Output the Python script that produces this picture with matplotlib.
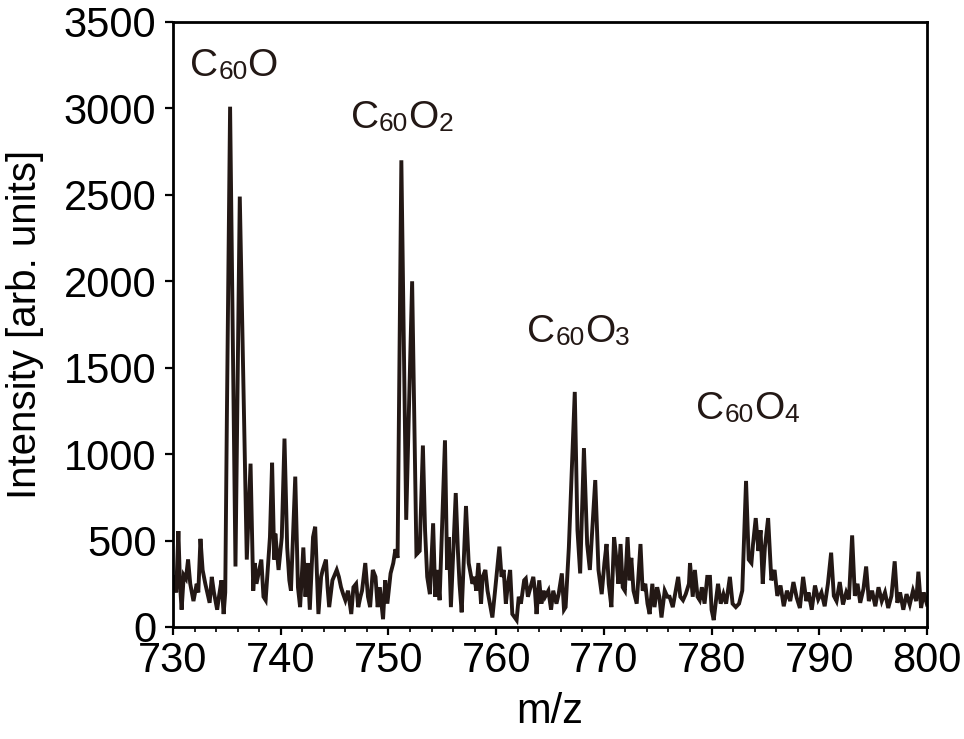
import matplotlib
matplotlib.use("Agg")
import matplotlib.pyplot as plt
from matplotlib.ticker import MultipleLocator

plt.rcParams['font.family'] = ['Liberation Sans', 'DejaVu Sans']

# m/z positions and intensities
mz = [730.0, 730.15, 730.3, 730.5, 730.65, 730.8, 731.0, 731.2, 731.4, 731.6,
      731.9, 732.2, 732.35, 732.55, 732.75, 733.0, 733.4, 733.6, 733.8, 734.1,
      734.3, 734.5, 734.7, 734.85, 735.0, 735.3, 735.8, 736.2, 736.85, 737.2,
      737.45, 737.6, 737.75, 738.2, 738.4, 738.6, 739.0, 739.2, 739.4, 739.5,
      739.8, 740.1, 740.35, 740.6, 740.8, 740.95, 741.35, 741.6, 741.8, 742.1,
      742.3, 742.5, 742.7, 743.0, 743.2, 743.5, 743.75, 743.9, 744.2, 744.35,
      744.5, 744.8, 745.2, 745.4, 745.6, 745.8, 746.0, 746.25, 746.55, 746.75,
      747.0, 747.2, 747.4, 747.55, 747.85, 748.1, 748.3, 748.55, 748.8, 749.0,
      749.2, 749.5, 749.7, 749.9, 750.2, 750.45, 750.65, 750.85, 751.2, 751.65,
      752.2, 752.6, 752.9, 753.2, 753.4, 753.6, 753.85, 754.15, 754.35, 754.55,
      754.75, 755.25, 755.45, 755.6, 755.8, 756.25, 756.45, 756.6, 756.8, 757.2,
      757.45, 757.8, 758.0, 758.15, 758.35, 758.6, 758.75, 759.0, 759.2, 759.65,
      759.9, 760.3, 760.5, 760.7, 760.9, 761.1, 761.3, 761.5, 761.9, 762.1,
      762.3, 762.6, 762.75, 762.95, 763.45, 763.6, 763.75, 764.0, 764.2, 764.4,
      764.55, 764.85, 765.1, 765.3, 765.6, 765.8, 766.1, 766.3, 766.45, 766.75,
      767.3, 767.55, 767.8, 768.15, 768.45, 768.7, 769.2, 769.5, 769.8, 770.05,
      770.25, 770.45, 770.7, 770.95, 771.2, 771.35, 771.55, 771.75, 771.95, 772.2,
      772.4, 772.55, 772.75, 773.05, 773.4, 773.6, 773.85, 774.05, 774.25, 774.5,
      774.7, 774.95, 775.15, 775.35, 775.65, 775.9, 776.1, 776.4, 776.9, 777.1,
      777.35, 777.6, 777.9, 778.0, 778.25, 778.45, 778.7, 778.9, 779.1, 779.35,
      779.6, 779.85, 780.0, 780.2, 780.45, 780.6, 780.85, 781.1, 781.35, 781.7,
      781.95, 782.25, 782.55, 782.85, 783.2, 783.45, 783.7, 783.85, 784.1, 784.35,
      784.55, 784.75, 784.95, 785.25, 785.55, 785.85, 786.1, 786.4, 786.7, 787.0,
      787.3, 787.6, 787.9, 788.2, 788.5, 788.8, 789.0, 789.3, 789.6, 789.9,
      790.2, 790.5, 790.8, 791.1, 791.35, 791.6, 791.9, 792.2, 792.5, 792.75,
      793.05, 793.3, 793.55, 793.8, 794.1, 794.35, 794.6, 794.9, 795.2, 795.5,
      795.8, 796.1, 796.4, 796.7, 797.0, 797.25, 797.5, 797.8, 798.1, 798.4,
      798.7, 799.0, 799.2, 799.45, 799.7, 800.0]

intensity = [250, 300, 200, 555, 250, 100, 300, 280, 390, 250,
             150, 250, 200, 510, 330, 250, 140, 290, 200, 100,
             190, 270, 75, 200, 1200, 3010, 350, 2490, 390, 945,
             210, 370, 250, 390, 175, 155, 520, 950, 390, 540,
             330, 520, 1090, 460, 270, 210, 870, 230, 115, 460,
             175, 370, 100, 520, 580, 75, 290, 330, 390, 230,
             115, 270, 330, 290, 230, 190, 155, 210, 75, 230,
             250, 115, 175, 210, 370, 175, 115, 330, 290, 115,
             230, 45, 270, 135, 310, 370, 450, 400, 2700, 620,
             2000, 420, 440, 1050, 560, 290, 190, 600, 175, 330,
             155, 1080, 330, 520, 115, 775, 440, 250, 85, 700,
             370, 250, 290, 210, 370, 135, 290, 330, 210, 55,
             210, 465, 290, 330, 135, 250, 330, 75, 40, 175,
             135, 270, 280, 175, 290, 210, 75, 270, 135, 210,
             175, 210, 100, 210, 135, 190, 310, 100, 115, 460,
             1360, 560, 310, 1035, 480, 330, 850, 330, 190, 370,
             480, 250, 115, 520, 370, 250, 480, 230, 210, 520,
             270, 400, 210, 135, 480, 210, 250, 135, 75, 250,
             115, 230, 175, 55, 210, 175, 175, 115, 290, 175,
             155, 190, 250, 370, 175, 330, 175, 155, 230, 135,
             290, 290, 100, 40, 175, 250, 135, 190, 135, 290,
             135, 115, 135, 210, 845, 390, 370, 480, 630, 440,
             560, 250, 460, 630, 270, 330, 180, 240, 120, 210,
             150, 260, 170, 110, 290, 150, 200, 100, 240, 160,
             200, 120, 250, 430, 180, 150, 260, 130, 200, 160,
             530, 180, 250, 140, 220, 350, 150, 210, 120, 230,
             150, 200, 110, 180, 380, 140, 200, 100, 190, 130,
             210, 150, 320, 110, 200, 130]

# peak labels: "C" + small "60" + "O" + small oxygen count
label_main = ["C", "C", "C", "C"]
label_tail = ["O", "O", "O", "O"]
label_tail_sub = ["", "2", "3", "4"]
label_x = [731.6, 746.5, 762.9, 778.6]
label_y = [3185, 2885, 1650, 1205]

line_color = '#231815'

fig = plt.figure(figsize=(9.64, 7.39), dpi=100)
ax = fig.add_axes([173 / 964, (739 - 627) / 739, 754 / 964, 605 / 739])

ax.plot(mz, intensity, color=line_color, lw=2.8, solid_joinstyle='miter')

ax.set_xlim(730, 800)
ax.set_ylim(0, 3500)
ax.xaxis.set_major_locator(MultipleLocator(10))
ax.xaxis.set_minor_locator(MultipleLocator(2))
ax.yaxis.set_major_locator(MultipleLocator(500))

for s in ax.spines.values():
    s.set_linewidth(2.0)
    s.set_color('black')

ax.tick_params(axis='both', which='major', direction='out', length=6, width=1.6,
               labelsize=30, colors='black')
ax.tick_params(axis='y', which='major', pad=6)
ax.tick_params(axis='x', which='major', pad=4)
ax.tick_params(axis='x', which='minor', direction='out', length=3.5, width=1.2)

ax.set_xlabel('m/z', fontsize=30, labelpad=8)
ax.set_ylabel('Intensity [arb. units]', fontsize=29, labelpad=14)

main_size = 28
sub_size = 19
for m, t, ts, x, y in zip(label_main, label_tail, label_tail_sub, label_x, label_y):
    t1 = ax.text(x, y, m, fontsize=main_size, color=line_color, va='baseline', ha='left')
    t2 = ax.annotate('60', xy=(1, 0), xycoords=t1, va='bottom', ha='left',
                     fontsize=sub_size, color=line_color)
    t3 = ax.annotate(t, xy=(1, 0), xycoords=t2, va='bottom', ha='left',
                     fontsize=main_size, color=line_color)
    if ts:
        ax.annotate(ts, xy=(1, 0), xycoords=t3, va='bottom', ha='left',
                    fontsize=sub_size, color=line_color)

fig.savefig('out.png', dpi=100)
